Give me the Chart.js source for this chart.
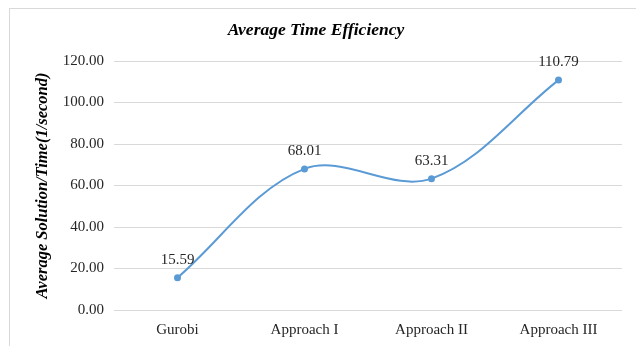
<!DOCTYPE html>
<html>
<head>
<meta charset="utf-8">
<script src="https://cdn.jsdelivr.net/npm/chart.js@4/dist/chart.umd.min.js"></script>
<style>
  html, body { margin: 0; padding: 0; background: #ffffff; }
  #wrap { width: 636px; height: 346px; position: relative; }
</style>
</head>
<body>
<div id="wrap"><canvas id="chart" width="636" height="346"></canvas></div>
<script>
// Average solution/time per method
const categories = ['Gurobi', 'Approach I', 'Approach II', 'Approach III'];
const efficiency = [15.59, 68.01, 63.31, 110.79];
const yTicks = [0, 20, 40, 60, 80, 100, 120];

const serif = '"Liberation Serif", "Times New Roman", serif';

// Light frame around the whole chart
const framePlugin = {
  id: 'frame',
  beforeDraw(chart) {
    const ctx = chart.ctx;
    ctx.save();
    ctx.fillStyle = '#ffffff';
    ctx.fillRect(0, 0, chart.width, chart.height);
    ctx.strokeStyle = '#d9d9d9';
    ctx.lineWidth = 1;
    ctx.strokeRect(9.5, 8.5, chart.width + 10, chart.height + 10);
    ctx.restore();
  }
};

// Value labels above each point
const valueLabels = {
  id: 'valueLabels',
  afterDatasetsDraw(chart) {
    const ctx = chart.ctx;
    const meta = chart.getDatasetMeta(0);
    ctx.save();
    ctx.font = '15px ' + serif;
    ctx.fillStyle = '#262626';
    ctx.textAlign = 'center';
    ctx.textBaseline = 'middle';
    meta.data.forEach((pt, i) => {
      ctx.fillText(efficiency[i].toFixed(2), pt.x, pt.y - 18);
    });
    ctx.restore();
  }
};

new Chart(document.getElementById('chart'), {
  type: 'line',
  data: {
    labels: categories,
    datasets: [{
      data: efficiency,
      borderColor: '#5b9bd5',
      backgroundColor: '#5b9bd5',
      borderWidth: 2,
      pointRadius: 2.5,
      pointHoverRadius: 2.5,
      tension: 0.35,
      fill: false
    }]
  },
  options: {
    responsive: false,
    animation: false,
    devicePixelRatio: 1,
    layout: { padding: { left: 10, right: 14, top: 8, bottom: 7 } },
    plugins: {
      legend: { display: false },
      tooltip: { enabled: false },
      title: {
        display: true,
        text: 'Average Time Efficiency',
        color: '#000000',
        font: { family: serif, size: 17.5, style: 'italic', weight: 'bold' },
        padding: { top: 12, bottom: 20 }
      }
    },
    scales: {
      x: {
        offset: true,
        afterFit(scale) { scale.height = 29; },
        grid: { display: false, drawTicks: false },
        border: { display: false },
        ticks: {
          color: '#262626',
          padding: 11,
          font: { family: serif, size: 15 }
        }
      },
      y: {
        min: 0,
        max: 120,
        afterBuildTicks(scale) {
          scale.ticks = yTicks.map(v => ({ value: v }));
        },
        afterFit(scale) { scale.width = 104; },
        grid: { color: '#d9d9d9', lineWidth: 1, drawTicks: false },
        border: { display: false },
        ticks: {
          color: '#262626',
          padding: 10,
          font: { family: serif, size: 15 },
          callback: v => Number(v).toFixed(2)
        },
        title: {
          display: true,
          text: 'Average Solution/Time(1/second)',
          color: '#000000',
          font: { family: serif, size: 16.5, style: 'italic', weight: 'bold' },
          padding: { top: 23, bottom: 0 }
        }
      }
    }
  },
  plugins: [framePlugin, valueLabels]
});
</script>
</body>
</html>
